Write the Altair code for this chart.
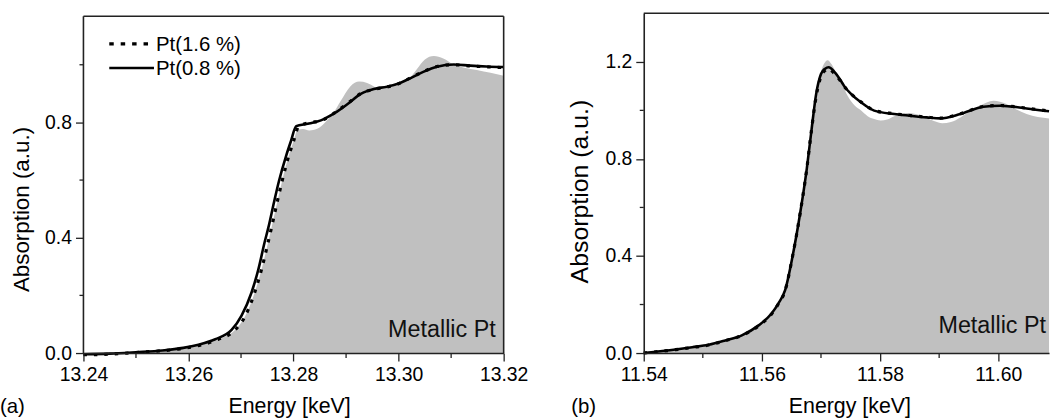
import altair as alt
import pandas as pd

# ---------------- Panel (a): Pt L3 edge, 13.24-13.32 keV ----------------
A_REF_E = [13.240, 13.250, 13.2590, 13.2624, 13.2656, 13.2688, 13.2707, 13.2726, 13.2739, 13.2751,
           13.2758, 13.2769, 13.2778, 13.2791, 13.2800, 13.2808, 13.2818, 13.2830, 13.2845, 13.2860,
           13.2875, 13.2890, 13.2908, 13.2925, 13.2940, 13.2953, 13.2965, 13.2985, 13.3005, 13.3019,
           13.3035, 13.3050, 13.3067, 13.3085, 13.3105, 13.3125, 13.3149, 13.3175, 13.3200]
A_REF_V = [0.0, 0.003, 0.017, 0.028, 0.047, 0.079, 0.125, 0.21, 0.29, 0.38,
           0.435, 0.525, 0.595, 0.685, 0.735, 0.775, 0.777, 0.772, 0.778, 0.80,
           0.83, 0.875, 0.925, 0.942, 0.937, 0.925, 0.915, 0.922, 0.935, 0.95,
           0.985, 1.018, 1.03, 1.022, 1.001, 0.99, 0.982, 0.972, 0.962]

A_16_E = [13.240, 13.245, 13.250, 13.255, 13.259, 13.2624, 13.2656, 13.2688, 13.2707, 13.2726,
          13.2739, 13.2751, 13.2758, 13.2769, 13.2778, 13.2791, 13.2800, 13.2810, 13.2830, 13.2852,
          13.2878, 13.2903, 13.2928, 13.2953, 13.2978, 13.2997, 13.3022, 13.3048, 13.3073, 13.3105,
          13.3136, 13.3167, 13.3200]
A_16_V = [-0.006, -0.004, 0.002, 0.008, 0.016, 0.028, 0.047, 0.079, 0.125, 0.21,
          0.29, 0.38, 0.435, 0.525, 0.595, 0.685, 0.735, 0.787, 0.799, 0.806,
          0.833, 0.866, 0.900, 0.915, 0.923, 0.932, 0.954, 0.977, 0.994, 1.000,
          0.996, 0.993, 0.990]

A_08_E = [13.240, 13.245, 13.250, 13.255, 13.259, 13.2619, 13.2651, 13.2682, 13.2701, 13.2720,
          13.2733, 13.2745, 13.2752, 13.2763, 13.2772, 13.2786, 13.2795, 13.2805, 13.2827, 13.2852,
          13.2878, 13.2903, 13.2928, 13.2953, 13.2978, 13.2997, 13.3022, 13.3048, 13.3073, 13.3105,
          13.3136, 13.3167, 13.3200]
A_08_V = [-0.004, -0.002, 0.003, 0.009, 0.018, 0.029, 0.048, 0.080, 0.13, 0.21,
          0.29, 0.385, 0.435, 0.525, 0.595, 0.685, 0.735, 0.787, 0.795, 0.807,
          0.832, 0.864, 0.899, 0.916, 0.924, 0.933, 0.953, 0.976, 0.993, 1.001,
          0.997, 0.994, 0.992]

A_X_TICKS = [13.24, 13.26, 13.28, 13.30, 13.32]
A_X_MINOR = [13.25, 13.27, 13.29, 13.31]
A_Y_TICKS = [0.0, 0.4, 0.8]
A_Y_MINOR = [0.2, 0.6, 1.0]

# ---------------- Panel (b): Pt L2 edge, 11.54-11.61 keV ----------------
B_REF_E = [11.540, 11.5454, 11.5482, 11.551, 11.5538, 11.5566, 11.5595, 11.5616, 11.5628, 11.5639,
           11.5652, 11.5665, 11.5676, 11.5684, 11.5692, 11.5700, 11.5706, 11.5711, 11.5718, 11.5728,
           11.5737, 11.5745, 11.5757, 11.5768, 11.5779, 11.5790, 11.5801, 11.5812, 11.5824, 11.5846,
           11.5865, 11.5885, 11.5905, 11.5920, 11.5936, 11.5955, 11.5969, 11.5992, 11.6014, 11.6030,
           11.6048, 11.6086]
B_REF_V = [0.0, 0.015, 0.024, 0.034, 0.052, 0.073, 0.115, 0.162, 0.205, 0.257,
           0.40, 0.58, 0.76, 0.92, 1.07, 1.16, 1.195, 1.207, 1.19, 1.142,
           1.10, 1.06, 1.02, 0.999, 0.976, 0.964, 0.958, 0.962, 0.976, 0.989,
           0.982, 0.962, 0.947, 0.952, 0.971, 1.0, 1.019, 1.04, 1.026, 1.005,
           0.985, 0.967]

B_E = [11.540, 11.5454, 11.5482, 11.551, 11.5538, 11.5566, 11.5595, 11.5616, 11.5628, 11.5639,
       11.5652, 11.5665, 11.5676, 11.5684, 11.5692, 11.5700, 11.5707, 11.5713, 11.5723, 11.5734,
       11.5739, 11.5752, 11.5768, 11.5790, 11.5824, 11.5850, 11.5879, 11.5902, 11.5936, 11.5975,
       11.6003, 11.6048, 11.6086]
B_16_V = [0.0, 0.014, 0.023, 0.033, 0.051, 0.072, 0.113, 0.160, 0.203, 0.255,
          0.40, 0.58, 0.76, 0.92, 1.06, 1.14, 1.165, 1.172, 1.150, 1.118,
          1.100, 1.066, 1.034, 1.000, 0.986, 0.979, 0.972, 0.968, 0.986, 1.016,
          1.020, 1.009, 0.997]
B_08_V = [0.0, 0.015, 0.024, 0.034, 0.052, 0.073, 0.115, 0.162, 0.205, 0.257,
          0.40, 0.58, 0.76, 0.92, 1.07, 1.15, 1.172, 1.178, 1.158, 1.121,
          1.101, 1.065, 1.033, 0.999, 0.985, 0.978, 0.971, 0.967, 0.985, 1.015,
          1.019, 1.008, 0.996]

B_X_TICKS = [11.54, 11.56, 11.58, 11.60]
B_X_MINOR = [11.55, 11.57, 11.59]
B_Y_TICKS = [0.0, 0.4, 0.8, 1.2]
B_Y_MINOR = [0.2, 0.6, 1.0]

SERIES = ["Pt(1.6 %)", "Pt(0.8 %)"]

FONT = "Liberation Sans"
H = 342
AXIS_COLOR = "#222222"
ONE = pd.DataFrame({"k": [0]})


def panel(ref_e, ref_v, e16, v16, e08, v08, xdom, ydom, W, xt, xm, yt, ym,
          ytx, yty, ytsize, tag, tag_x, metal_x, metal_y, boxed, legend):
    xs = alt.Scale(domain=xdom, nice=False, zero=False)
    ys = alt.Scale(domain=ydom, nice=False, zero=False)
    xaxis = alt.Axis(values=xt, format=".2f", title="Energy [keV]", grid=False,
                     titleFontSize=21.5, titleFont=FONT, titleFontWeight="normal", titleColor="black",
                     labelFont=FONT, labelFontSize=19.5, labelColor="black", labelPadding=5,
                     tickSize=8, tickColor=AXIS_COLOR, tickWidth=1.3,
                     domainColor=AXIS_COLOR, domainWidth=1.6,
                     titleX=207, titleY=54, titleBaseline="middle", labelFlush=False, zindex=1)
    yaxis = alt.Axis(values=yt, format=".1f", title="Absorption (a.u.)", grid=False,
                     titleFontSize=ytsize, titleFont=FONT, titleFontWeight="normal", titleColor="black",
                     labelFont=FONT, labelFontSize=19.5, labelColor="black", labelPadding=4,
                     tickSize=8, tickColor=AXIS_COLOR, tickWidth=1.3,
                     domain=not boxed, domainColor=AXIS_COLOR, domainWidth=1.6,
                     titleX=ytx, titleY=yty, titleBaseline="middle", labelFlush=False, zindex=1)
    X = alt.X("E:Q", scale=xs, axis=xaxis)
    Y = alt.Y("v:Q", scale=ys, axis=yaxis)

    area = alt.Chart(pd.DataFrame({"E": ref_e, "v": ref_v})).mark_area(
        color="#c0c0c0", interpolate="monotone", opacity=1).encode(x=X, y=Y)
    solid = alt.Chart(pd.DataFrame({"E": e08, "v": v08})).mark_line(
        color="black", strokeWidth=2.6, interpolate="monotone").encode(x=X, y=Y)
    dotted = alt.Chart(pd.DataFrame({"E": e16, "v": v16})).mark_line(
        color="black", strokeWidth=3.2, strokeDash=[3.5, 7], interpolate="monotone").encode(x=X, y=Y)

    # minor ticks (no axis=None here: it would suppress the merged axis)
    ymin = alt.Chart(pd.DataFrame({"m": ym})).mark_rule(color=AXIS_COLOR, strokeWidth=1.3).encode(
        y=alt.Y("m:Q", scale=ys), x=alt.value(-4), x2=alt.value(0))
    xmin = alt.Chart(pd.DataFrame({"m": xm})).mark_rule(color=AXIS_COLOR, strokeWidth=1.3).encode(
        x=alt.X("m:Q", scale=xs), y=alt.value(H), y2=alt.value(H + 5))

    layers = [area, solid, dotted, ymin, xmin]

    top_y = 3 if boxed else 0
    top = alt.Chart(ONE).mark_rule(color=AXIS_COLOR, strokeWidth=1.6).encode(
        x=alt.value(0), x2=alt.value(W), y=alt.value(top_y))
    layers.append(top)
    if boxed:
        left = alt.Chart(ONE).mark_rule(color=AXIS_COLOR, strokeWidth=1.6).encode(
            x=alt.value(0), y=alt.value(top_y), y2=alt.value(H))
        right = alt.Chart(ONE).mark_rule(color=AXIS_COLOR, strokeWidth=1.6).encode(
            x=alt.value(W), y=alt.value(top_y), y2=alt.value(H))
        layers += [left, right]

    metal = alt.Chart(ONE).mark_text(text="Metallic Pt", font=FONT, fontSize=23.5, align="right",
                                     baseline="alphabetic", color="#111111").encode(
        x=alt.value(metal_x), y=alt.value(metal_y))
    tagt = alt.Chart(ONE).mark_text(text=tag, font=FONT, fontSize=20.5, align="left",
                                    baseline="middle", color="black").encode(
        x=alt.value(tag_x), y=alt.value(396))
    layers += [metal, tagt]

    if legend:
        l1 = alt.Chart(ONE).mark_rule(color="black", strokeWidth=3.2, strokeDash=[4.5, 7]).encode(
            x=alt.value(26), x2=alt.value(69), y=alt.value(30.7))
        l2 = alt.Chart(ONE).mark_rule(color="black", strokeWidth=2.6).encode(
            x=alt.value(26), x2=alt.value(71), y=alt.value(55))
        t1 = alt.Chart(ONE).mark_text(text=SERIES[0], font=FONT, fontSize=20.5, align="left",
                                      baseline="middle", color="black").encode(
            x=alt.value(73), y=alt.value(32))
        t2 = alt.Chart(ONE).mark_text(text=SERIES[1], font=FONT, fontSize=20.5, align="left",
                                      baseline="middle", color="black").encode(
            x=alt.value(73), y=alt.value(56))
        layers += [l1, l2, t1, t2]

    return alt.layer(*layers).properties(width=W, height=H)


WA = 423
WB = 408
pa = panel(A_REF_E, A_REF_V, A_16_E, A_16_V, A_08_E, A_08_V,
           [13.24, 13.32], [0.0, 1.1785], WA, A_X_TICKS, A_X_MINOR, A_Y_TICKS, A_Y_MINOR,
           -62, 197, 22.5, "(a)", -84, 415, 326, True, True)
pb = panel(B_REF_E, B_REF_V, B_E, B_16_V, B_E, B_08_V,
           [11.54, 11.6086], [0.0, 1.4], WB, B_X_TICKS, B_X_MINOR, B_Y_TICKS, B_Y_MINOR,
           -65, 179, 25, "(b)", -73, 405, 322, False, False)

chart = alt.hconcat(pa, pb, spacing=141, bounds="flush").properties(
    padding={"left": 0, "top": 11, "right": 0, "bottom": 0},
    background="white",
).configure_view(stroke=None)

chart.save("out.html", embed_options={"renderer": "svg", "actions": False})
